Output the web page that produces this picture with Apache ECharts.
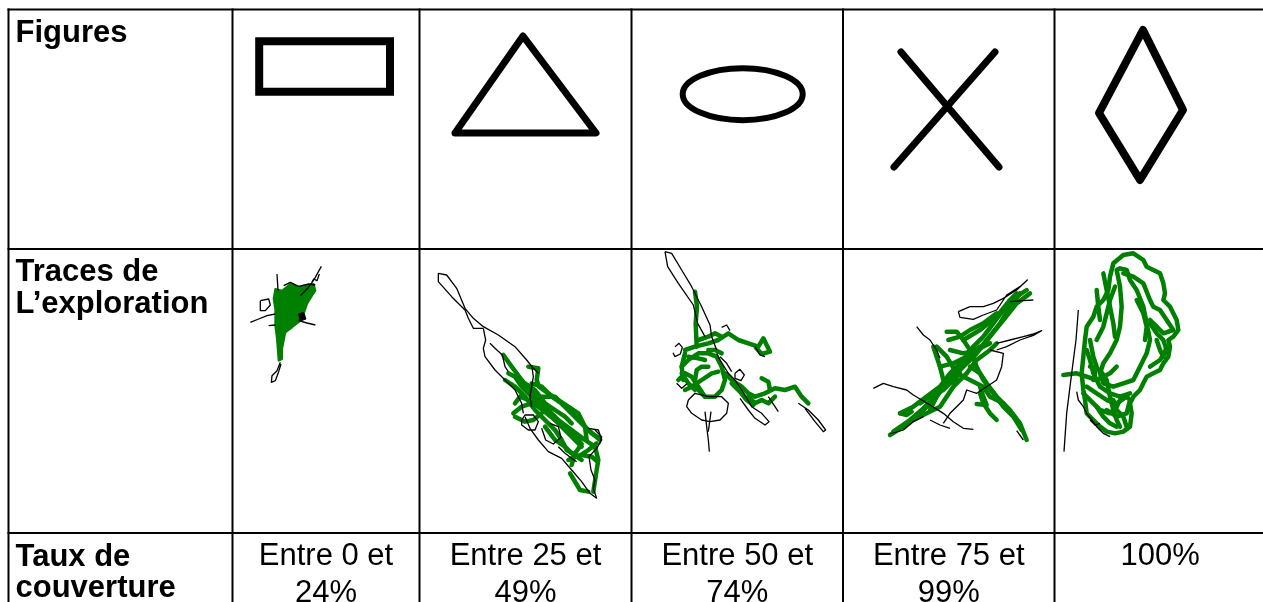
<!DOCTYPE html>
<html><head><meta charset="utf-8">
<script src="https://cdn.jsdelivr.net/npm/echarts@6/dist/echarts.min.js"></script>
<style>html,body{margin:0;padding:0;background:#fff}#c{width:1263px;height:602px}</style>
</head><body><div id="c"></div><script>
// ---------------- DATA ----------------
const rowHeaders = ['Figures', 'Traces de\nL’exploration', 'Taux de\ncouverture'];
const figureNames = ['Rectangle', 'Triangle', 'Ellipse', 'Croix', 'Losange'];
const coverageLabels = ['Entre 0 et\n24%', 'Entre 25 et\n49%', 'Entre 50 et\n74%', 'Entre 75 et\n99%', '100%'];

// figure outlines, in px relative to the top-left of their cell
const rectanglePts = [[26.7,31.7],[157.5,31.7],[157.5,82.2],[26.7,82.2]];
const trianglePts = [[103.5,26.5],[176.5,123.5],[35.5,123.5]];
const ellipseGeom = [111.2, 84.7, 60, 26];            // cx, cy, rx, ry
const crossStrokes = [[[58,42.5],[156,157.5]], [[152,42.5],[51,157.5]]];
const diamondPts = [[88.5,20.5],[128.5,100.5],[85.5,170.5],[44.5,103.5]];

// exploration traces, in sketch units (1/3 px) from the trace anchor
const trace1GreenArea = [[130,120],[150,125],[175,105],[200,115],[245,105],[250,125],[240,140],[225,165],[215,195],[205,215],[180,235],[160,250],[150,300],[150,330],[140,335],[135,270],[130,230],[130,180],[125,150]];
const trace1BlackArea = [[200,195],[215,190],[222,210],[205,216]];
const trace1Green = [];
const trace1Black = [
  [[205,140],[225,120],[240,100],[250,85],[258,70],[268,52]],
  [[240,100],[245,90],[255,95],[262,75]],
  [[135,75],[138,125]],
  [[85,155],[110,150],[115,168],[100,185],[85,185],[85,155]],
  [[55,220],[80,210],[105,200],[130,195]],
  [[200,215],[225,222],[250,228]],
  [[145,340],[135,365],[120,380],[118,400],[130,395],[140,368],[147,345]],
  [[155,110],[175,100],[200,112],[230,105],[250,108]],
  [[110,230],[130,228]]
];
const trace2Green = [
  [[265,345],[290,380],[320,420],[345,450],[370,480],[400,510],[430,540],[470,570],[510,600],[540,620],[550,660],[545,690],[535,755]],
  [[300,490],[315,470],[340,480],[370,500],[395,520],[420,540],[450,560],[480,585],[500,612],[480,640],[470,675]],
  [[465,700],[495,750],[520,755]],
  [[295,520],[320,500],[350,490],[380,470],[420,470],[450,500],[490,540],[520,570],[555,600]],
  [[340,380],[370,385],[365,420],[372,440],[400,460],[430,480],[460,500],[490,520],[510,560],[515,600]],
  [[270,420],[300,440],[330,470],[360,510],[390,540],[420,570],[440,600],[455,630],[490,650],[520,630],[545,610]],
  [[300,530],[330,545],[355,540],[380,520]],
  [[460,660],[480,650],[500,645],[530,650],[548,665]],
  [[330,430],[360,450],[390,490],[420,510],[450,530],[470,550]],
  [[280,400],[300,410],[320,440],[350,470],[380,500],[410,530],[440,560],[470,590],[500,620]],
  [[350,430],[380,440],[410,470],[440,490],[470,520],[500,550],[530,580],[555,595]],
  [[390,560],[420,600],[450,620],[470,640],[500,660]]
];
const trace2Black = [
  [[70,100],[95,105],[125,145],[150,205],[175,235],[205,260],[250,285],[300,320],[335,360],[355,385],[370,400]],
  [[70,100],[70,125],[110,170],[150,210],[160,235],[175,265],[205,265]],
  [[205,265],[212,300],[205,325],[210,350],[240,390],[270,420],[300,450],[320,490],[325,520]],
  [[330,530],[345,565],[370,600],[400,635],[440,655],[470,690],[500,725],[525,760],[545,775]],
  [[545,775],[535,745],[540,720],[528,690],[522,650],[545,625],[560,600],[550,570],[520,565]],
  [[320,540],[330,525],[355,525],[370,545],[360,570],[340,570],[320,555],[320,540]],
  [[380,565],[392,600],[415,612],[438,592],[430,560],[405,550]],
  [[225,310],[240,325],[262,345],[270,380],[280,395]],
  [[350,375],[355,410],[350,440],[345,470],[350,500]],
  [[430,620],[450,640],[470,655],[485,665]],
  [[540,570],[560,590],[555,610]]
];
const trace3Green = [
  [[840,155],[846,200],[842,250],[845,320]],
  [[810,330],[840,320],[880,310],[910,300],[940,280],[970,300],[1000,310],[1030,320],[1045,295],[1065,335],[1040,342],[1022,322]],
  [[800,380],[820,360],[850,340],[880,340],[905,350],[920,380],[930,420],[920,450],[900,470],[870,470],[850,450],[840,420],[845,390],[860,380],[880,380]],
  [[790,420],[810,400],[830,410],[850,440],[870,470]],
  [[930,400],[950,420],[980,440],[1000,460],[1020,470],[1050,460],[1080,445],[1110,450],[1140,440],[1160,470],[1180,490]],
  [[1000,470],[1020,490],[1040,480],[1060,490],[1080,470]],
  [[810,340],[800,380],[805,420]],
  [[1040,415],[1060,425],[1065,450]],
  [[850,300],[880,290],[900,280],[920,290]],
  [[810,450],[830,440],[860,420],[890,400],[910,395]],
  [[950,430],[975,455],[995,480],[1015,495]],
  [[820,350],[850,355],[870,360]],
  [[880,330],[900,330],[920,340]],
  [[800,400],[820,430],[840,450]]
];
const trace3Black = [
  [[750,35],[770,40],[800,90],[830,140],[860,200],[885,255],[890,290],[905,330]],
  [[750,35],[758,80],[790,130],[835,195],[848,250],[870,290]],
  [[905,340],[915,360],[940,400],[960,420],[990,465],[1010,500],[1040,520],[1062,545],[1050,555],[1020,535],[1000,510],[975,475]],
  [[1150,490],[1180,510],[1210,540],[1232,570],[1225,575],[1200,545],[1170,505]],
  [[820,480],[840,460],[880,470],[920,470],[940,490],[935,520],[915,540],[885,545],[860,540],[830,520],[815,500],[820,480]],
  [[870,515],[875,560],[880,600],[883,635]],
  [[888,515],[880,575]],
  [[960,400],[975,388],[988,405],[978,422],[960,415],[960,400]],
  [[785,430],[800,445],[815,432]],
  [[780,320],[792,310],[802,322],[796,342],[780,350],[774,338]],
  [[920,262],[935,255],[945,272]],
  [[915,350],[935,370],[950,395]],
  [[1020,320],[1035,345],[1050,350]],
  [[1060,470],[1080,500],[1090,515]]
];
const trace4Green = [
  [[210,520],[250,500],[290,470],[330,440],[360,400],[400,360],[430,320],[460,290],[490,250],[520,210],[560,170],[590,150]],
  [[230,550],[270,520],[310,480],[350,430],[390,380],[430,350],[470,300],[510,250],[540,200],[570,160]],
  [[180,585],[220,560],[260,530],[300,490]],
  [[350,275],[380,275],[400,300],[420,330],[440,380],[460,420],[490,460],[520,500],[550,530],[575,570]],
  [[320,320],[350,350],[380,400],[420,420],[460,440],[480,470],[520,490]],
  [[310,320],[330,380],[340,420]],
  [[450,440],[460,470],[470,495],[440,492]],
  [[400,300],[450,270],[500,230],[540,180],[560,160]],
  [[250,540],[290,520],[330,500],[370,440],[410,400],[440,360],[480,330],[500,310]],
  [[355,300],[390,290],[420,270],[460,250],[500,220]],
  [[300,510],[320,470],[340,440],[380,420]],
  [[210,520],[230,525],[245,515]],
  [[190,575],[240,540],[280,505],[320,465],[360,420],[400,380],[440,340],[480,290],[520,240],[560,190],[600,160]],
  [[270,490],[300,470],[340,450],[370,420],[390,400]],
  [[360,330],[400,340],[440,330],[480,310]],
  [[330,380],[370,370],[410,350],[450,320]],
  [[420,380],[450,400],[470,430],[500,470],[540,510],[570,550],[590,600]],
  [[450,460],[460,490],[480,520],[500,540]]
];
const trace4Black = [
  [[130,445],[160,430],[190,440],[230,450],[250,465],[300,495],[340,520],[370,545],[400,565],[430,568]],
  [[260,260],[280,285],[300,300],[320,330],[330,355]],
  [[180,582],[220,570],[250,545],[280,530]],
  [[385,215],[420,200],[460,200],[490,190],[520,175],[560,150],[592,120],[570,140],[530,165],[500,210],[460,225],[430,238],[390,232],[385,215]],
  [[480,330],[520,340],[515,380],[500,420],[470,440],[440,460],[410,450],[400,480],[380,500],[360,520],[340,550]],
  [[500,310],[540,300],[580,290],[610,282],[635,272],[610,286],[570,300],[530,320],[500,330]],
  [[580,600],[560,572]],
  [[540,185],[580,182],[610,180]],
  [[300,540],[330,555],[360,565]]
];
const trace5Green = [
  [[850,70],[880,45],[910,40],[940,60],[950,80],[970,90],[990,100],[1000,130],[1005,160],[1000,180],[1020,200],[1040,240],[1045,270],[1030,290],[1015,300],[1020,320],[1015,350],[1000,370],[990,390],[970,400],[950,410],[940,430],[930,450],[910,470],[900,490],[905,520],[900,560],[880,575],[855,580],[830,575],[810,560],[790,540],[770,520],[765,480],[760,450],[755,400],[760,350],[765,300],[770,260],[790,230],[800,200],[820,180],[835,150],[840,110],[850,70]],
  [[860,90],[870,140],[875,200],[870,260],[860,300],[840,340],[820,370],[810,400],[820,430],[850,440],[880,430],[910,420],[930,380],[950,340],[960,300],[950,250],[940,200],[920,150],[900,120],[890,90],[870,85],[860,90]],
  [[880,100],[910,110],[940,130],[960,180],[970,200],[990,210],[1010,240],[1030,270],[1000,280],[980,260],[960,240]],
  [[780,380],[810,390],[830,420],[840,470],[850,510],[860,540],[870,560]],
  [[800,300],[820,260],[830,220],[840,180],[855,140]],
  [[700,405],[740,400],[770,410],[800,420],[840,400],[860,380]],
  [[770,440],[800,460],[830,480],[860,490],[890,470],[900,480],[890,520],[860,530],[830,510]],
  [[960,250],[980,280],[1000,300],[1010,330],[990,360],[960,380]],
  [[800,150],[805,200],[810,240]],
  [[780,300],[790,350],[800,380],[790,420]],
  [[820,100],[830,150],[840,200],[850,250],[855,290]],
  [[770,330],[780,360],[790,400],[810,440],[840,460],[870,470],[900,460]],
  [[920,180],[940,220],[950,260],[945,300]],
  [[980,300],[990,330],[1000,350],[1010,320]],
  [[760,460],[790,490],[810,510],[840,520],[860,500],[870,480]],
  [[850,480],[860,510],[880,530],[890,560]],
  [[800,500],[820,530],[840,550],[860,560]]
];
const trace5Black = [
  [[745,210],[738,300],[725,400],[710,520],[702,635]],
  [[740,455],[745,480],[760,500],[770,520],[785,540],[800,560],[820,580],[840,590]],
  [[780,540],[795,555],[810,550]]
];

// ---------------- LAYOUT ----------------
const W = 1263, H = 602;
const colEdges = [8.5, 232.5, 419.5, 631.5, 843, 1054.5, 1266];
const rowEdges = [9.5, 249, 533, 660];
const traceAnchors = [[232,249],[415,240],[415,240],[830,240],[830,240]];
const GREEN = '#008000';
const FONT = '"Liberation Sans", Arial, Helvetica, sans-serif';

const traces = [
  {green: trace1Green, black: trace1Black, greenArea: trace1GreenArea, blackArea: trace1BlackArea},
  {green: trace2Green, black: trace2Black},
  {green: trace3Green, black: trace3Black},
  {green: trace4Green, black: trace4Black},
  {green: trace5Green, black: trace5Black}
];

function figureItem(i, api) {
  const bx = colEdges[i + 1], by = rowEdges[0];
  const P = p => api.coord([bx + p[0], by + p[1]]);
  const st = {stroke: '#000', fill: 'none', lineWidth: 8, lineJoin: 'miter'};
  if (i === 0) return {type: 'polygon', shape: {points: rectanglePts.map(P)}, style: st};
  if (i === 1) return {type: 'polygon', shape: {points: trianglePts.map(P)}, style: Object.assign({}, st, {lineWidth: 7, lineJoin: 'round'})};
  if (i === 2) {
    const c = P([ellipseGeom[0], ellipseGeom[1]]);
    const e = P([ellipseGeom[0] + ellipseGeom[2], ellipseGeom[1] + ellipseGeom[3]]);
    const rx = e[0] - c[0], ry = e[1] - c[1];
    const d = `M ${c[0]-rx} ${c[1]} A ${rx} ${ry} 0 1 0 ${c[0]+rx} ${c[1]} A ${rx} ${ry} 0 1 0 ${c[0]-rx} ${c[1]} Z`;
    return {type: 'path', shape: {pathData: d}, style: Object.assign({}, st, {lineWidth: 6})};
  }
  if (i === 3) return {type: 'group', children: crossStrokes.map(s => ({type: 'polyline', shape: {points: s.map(P)}, style: Object.assign({}, st, {lineWidth: 7, lineCap: 'round'})}))};
  return {type: 'polygon', shape: {points: diamondPts.map(P)}, style: Object.assign({}, st, {lineWidth: 8, lineJoin: 'round'})};
}

function traceItem(i, api) {
  const a = traceAnchors[i];
  const P = p => api.coord([a[0] + p[0] / 3, a[1] + p[1] / 3]);
  const t = traces[i];
  const ch = [];
  if (t.greenArea) ch.push({type: 'polygon', shape: {points: t.greenArea.map(P)}, style: {fill: GREEN, stroke: GREEN, lineWidth: 2, lineJoin: 'round'}});
  t.green.forEach(s => ch.push({type: 'polyline', shape: {points: s.map(P)}, style: {stroke: GREEN, fill: 'none', lineWidth: 4.5, lineJoin: 'round', lineCap: 'round'}}));
  if (t.blackArea) ch.push({type: 'polygon', shape: {points: t.blackArea.map(P)}, style: {fill: '#000', stroke: '#000', lineWidth: 1}});
  t.black.forEach(s => ch.push({type: 'polyline', shape: {points: s.map(P)}, style: {stroke: '#000', fill: 'none', lineWidth: 1.3, lineJoin: 'round'}}));
  return {type: 'group', children: ch};
}

// table rules and texts
const graphics = [];
colEdges.slice(0, 6).forEach(x => graphics.push({type: 'line', shape: {x1: x, y1: rowEdges[0] - 1, x2: x, y2: H + 5}, style: {stroke: '#000', lineWidth: 2}, z: 10}));
rowEdges.slice(0, 3).forEach(y => graphics.push({type: 'line', shape: {x1: colEdges[0] - 1, y1: y, x2: W + 5, y2: y}, style: {stroke: '#000', lineWidth: 2}, z: 10}));

const headerBaselines = [42, 281, 565.5];
rowHeaders.forEach((txt, r) => {
  txt.split('\n').forEach((line, k) => {
    graphics.push({type: 'text', x: 15.5, y: headerBaselines[r] + k * 31.5 - 8.3, z: 11,
      style: {text: line, fontFamily: FONT, fontWeight: 'bold', fontSize: 31, fill: '#000', align: 'left', verticalAlign: 'middle'}});
  });
});
coverageLabels.forEach((txt, i) => {
  const cx = (colEdges[i + 1] + colEdges[i + 2]) / 2;
  txt.split('\n').forEach((line, k) => {
    graphics.push({type: 'text', x: cx, y: 565 + k * 37 - 8.3, z: 11,
      style: {text: line, fontFamily: FONT, fontSize: 31, fill: '#000', align: 'center', verticalAlign: 'middle'}});
  });
});

const chart = echarts.init(document.getElementById('c'), null, {renderer: 'canvas'});
chart.setOption({
  animation: false,
  backgroundColor: '#fff',
  grid: {left: 0, right: 0, top: 0, bottom: 0},
  xAxis: {type: 'value', min: 0, max: W, show: false},
  yAxis: {type: 'value', min: 0, max: H, inverse: true, show: false},
  series: [
    {type: 'custom', name: 'Figures', clip: false, data: figureNames.map((n, i) => ({name: n, value: [i, 0]})),
      renderItem: (params, api) => figureItem(params.dataIndex, api)},
    {type: 'custom', name: 'Traces', clip: false, data: coverageLabels.map((n, i) => ({name: n, value: [i, 0]})),
      renderItem: (params, api) => traceItem(params.dataIndex, api)}
  ],
  graphic: graphics
});
</script></body></html>
